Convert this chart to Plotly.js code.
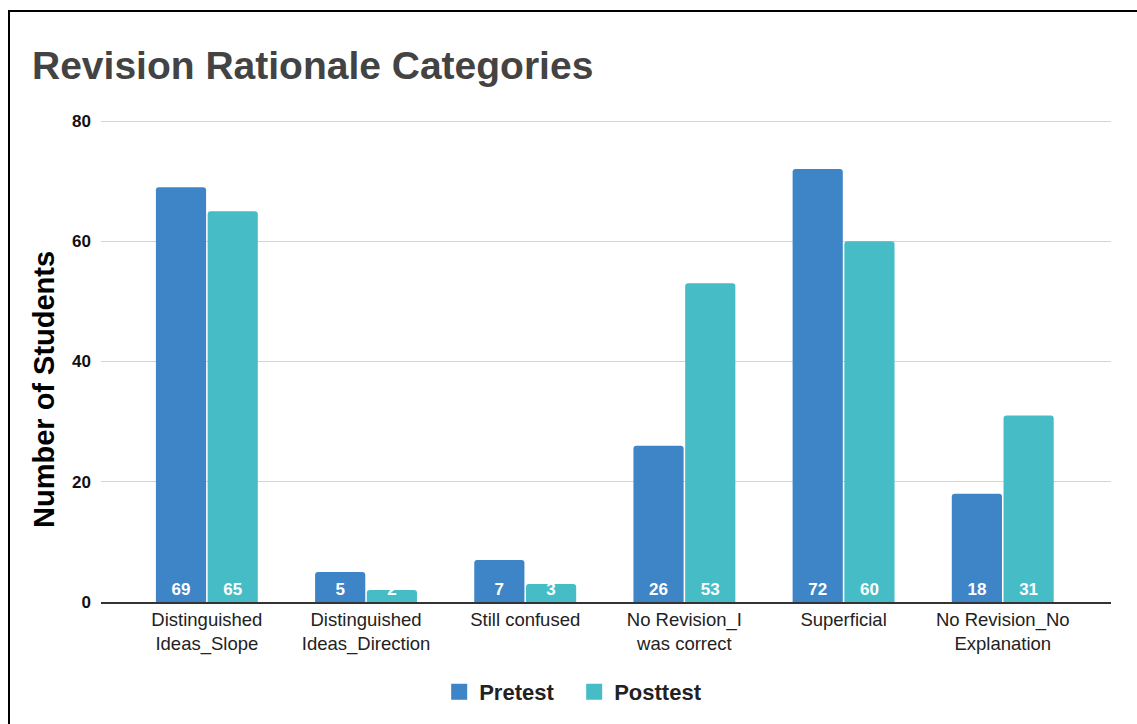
<!DOCTYPE html>
<html>
<head>
<meta charset="utf-8">
<script src="https://cdn.plot.ly/plotly-3.0.1.min.js"></script>
<style>
  html, body { margin: 0; padding: 0; background: #fff; }
  #wrap { position: relative; width: 1137px; height: 724px; overflow: hidden; }
  #chart { position: absolute; left: 0; top: 0; width: 1137px; height: 724px; }
  #frame { position: absolute; left: 8px; top: 10px; width: 1200px; height: 800px;
           border-left: 2px solid #000; border-top: 2px solid #000; pointer-events: none; }
</style>
</head>
<body>
<div id="wrap">
  <div id="chart"></div>
  <div id="frame"></div>
</div>
<script>
const categories = [
  "Distinguished<br>Ideas_Slope",
  "Distinguished<br>Ideas_Direction",
  "Still confused",
  "No Revision_I<br>was correct",
  "Superficial",
  "No Revision_No<br>Explanation"
];
const pretest = [69, 5, 7, 26, 72, 18];
const posttest = [65, 2, 3, 53, 60, 31];
const seriesNames = ["Pretest", "Posttest"];
const seriesColors = ["#3d85c6", "#46bdc6"];
const yTicks = [0, 20, 40, 60, 80];

const FONT = "Liberation Sans, Arial, Helvetica, sans-serif";

function barTrace(name, vals, color) {
  return {
    type: "bar",
    name: name,
    x: categories,
    y: vals,
    marker: { color: color, line: { width: 0 } },
    text: vals.map(String),
    textposition: "inside",
    insidetextanchor: "start",
    constraintext: "none",
    textangle: 0,
    textfont: { family: FONT, size: 17, color: "#ffffff", weight: "bold" },
    showlegend: false,
    hoverinfo: "x+y+name"
  };
}
function legendTrace(name, color) {
  return {
    type: "scatter",
    mode: "markers",
    name: name,
    x: [null],
    y: [null],
    marker: { symbol: "square", size: 16, color: color },
    showlegend: true,
    hoverinfo: "skip"
  };
}

const data = [
  barTrace(seriesNames[0], pretest, seriesColors[0]),
  barTrace(seriesNames[1], posttest, seriesColors[1]),
  legendTrace(seriesNames[0], seriesColors[0]),
  legendTrace(seriesNames[1], seriesColors[1])
];

const layout = {
  width: 1137,
  height: 724,
  paper_bgcolor: "rgba(0,0,0,0)",
  plot_bgcolor: "#ffffff",
  margin: { l: 101, r: 26, t: 118, b: 122, pad: 0 },
  font: { family: FONT, color: "#222" },
  title: {
    text: "Revision Rationale Categories",
    font: { family: FONT, size: 39, color: "#434343", weight: "bold" },
    xref: "container", x: 32 / 1137, xanchor: "left",
    yref: "container", y: 1 - 65 / 724, yanchor: "middle"
  },
  barmode: "group",
  bargap: 0.35,
  bargroupgap: 0.03,
  barcornerradius: 3,
  xaxis: {
    type: "category",
    range: [-0.665, 5.68],
    showgrid: false,
    showline: true,
    linecolor: "#333333",
    linewidth: 1.5,
    ticks: "",
    tickfont: { family: FONT, size: 18.5, color: "#222222" },
    fixedrange: true
  },
  yaxis: {
    range: [0, 80.5],
    tickvals: yTicks,
    ticktext: yTicks.map(String),
    showgrid: true,
    gridcolor: "#d4d4d4",
    gridwidth: 1,
    zeroline: false,
    showline: false,
    ticks: "",
    ticklabelstandoff: 9,
    tickfont: { family: FONT, size: 17, color: "#111111", weight: "bold" },
    fixedrange: true
  },
  legend: {
    orientation: "h",
    xref: "container", x: 0.505, xanchor: "center",
    yref: "container", y: 1 - 692 / 724, yanchor: "middle",
    font: { family: FONT, size: 22, color: "#222222", weight: "bold" },
    itemsizing: "trace",
    entrywidth: 90,
    bgcolor: "rgba(0,0,0,0)"
  },
  annotations: [{
    text: "Number of Students",
    textangle: -90,
    xref: "paper", yref: "paper",
    x: (44 - 101) / 1010, y: (602 - 390) / 484,
    xanchor: "center", yanchor: "middle",
    showarrow: false,
    font: { family: FONT, size: 29, color: "#000000", weight: "bold" }
  }]
};

Plotly.newPlot("chart", data, layout, { displayModeBar: false, staticPlot: true });
</script>
</body>
</html>
